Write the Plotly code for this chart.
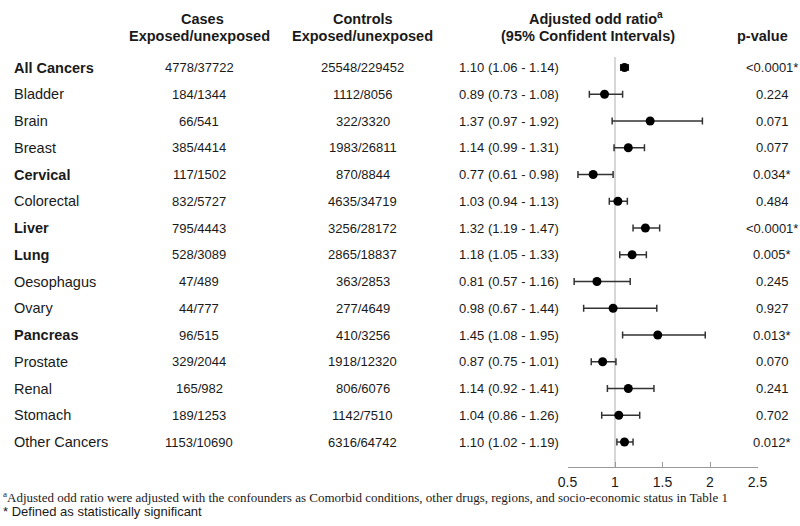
import plotly.graph_objects as go

# ---------------- data ----------------
cancers = ["All Cancers", "Bladder", "Brain", "Breast", "Cervical", "Colorectal", "Liver",
           "Lung", "Oesophagus", "Ovary", "Pancreas", "Prostate", "Renal", "Stomach",
           "Other Cancers"]
bold_rows = ["All Cancers", "Cervical", "Liver", "Lung", "Pancreas"]
cases = ["4778/37722", "184/1344", "66/541", "385/4414", "117/1502", "832/5727", "795/4443",
         "528/3089", "47/489", "44/777", "96/515", "329/2044", "165/982", "189/1253",
         "1153/10690"]
controls = ["25548/229452", "1112/8056", "322/3320", "1983/26811", "870/8844", "4635/34719",
            "3256/28172", "2865/18837", "363/2853", "277/4649", "410/3256", "1918/12320",
            "806/6076", "1142/7510", "6316/64742"]
or_est = [1.10, 0.89, 1.37, 1.14, 0.77, 1.03, 1.32, 1.18, 0.81, 0.98, 1.45, 0.87, 1.14, 1.04, 1.10]
ci_low = [1.06, 0.73, 0.97, 0.99, 0.61, 0.94, 1.19, 1.05, 0.57, 0.67, 1.08, 0.75, 0.92, 0.86, 1.02]
ci_high = [1.14, 1.08, 1.92, 1.31, 0.98, 1.13, 1.47, 1.33, 1.16, 1.44, 1.95, 1.01, 1.41, 1.26, 1.19]
p_values = ["<0.0001*", "0.224", "0.071", "0.077", "0.034*", "0.484", "<0.0001*", "0.005*",
            "0.245", "0.927", "0.013*", "0.070", "0.241", "0.702", "0.012*"]
x_ticks = [0.5, 1, 1.5, 2, 2.5]
footnote_a = "Adjusted odd ratio were adjusted with the confounders as Comorbid conditions, other drugs, regions, and socio-economic status in Table 1"
footnote_b = "* Defined as statistically significant"

# ---------------- layout helpers ----------------
W, H = 800, 526
SANS = "Liberation Sans, Arial, sans-serif"
SERIF = "Liberation Serif, Times New Roman, serif"
TXT = "#1a1a1a"
row0, dy = 67.5, 26.75
axis_px = 466.7
rows = list(range(len(cancers)))

def px_to_row(p):
    return (p - row0) / dy

fig = go.Figure()

fig.add_trace(go.Scatter(
    x=or_est, y=rows, mode="markers",
    marker=dict(color="black", size=9, symbol="circle"),
    error_x=dict(type="data", symmetric=False,
                 array=[h - o for h, o in zip(ci_high, or_est)],
                 arrayminus=[o - l for o, l in zip(or_est, ci_low)],
                 color="#333333", thickness=1.5, width=3.5),
    showlegend=False, hoverinfo="skip", cliponaxis=False,
))

# reference line at OR = 1
fig.add_shape(type="line", xref="x", yref="y", x0=1, x1=1,
              y0=px_to_row(57), y1=px_to_row(axis_px),
              line=dict(color="#bdbdbd", width=1.2), layer="below")

ann = []
def px_x(p):
    return p / W
def px_y(p):
    return 1 - p / H

for i, name in enumerate(cancers):
    label = f"<b>{name}</b>" if name in bold_rows else name
    ann.append(dict(text=label, x=px_x(12), y=i, xref="paper", yref="y",
                    xanchor="left", yanchor="middle", showarrow=False,
                    font=dict(family=SANS, size=14.5, color=TXT)))
    ann.append(dict(text=cases[i], x=px_x(199), y=i, xref="paper", yref="y",
                    xanchor="center", yanchor="middle", showarrow=False,
                    font=dict(family=SANS, size=13, color=TXT)))
    ann.append(dict(text=controls[i], x=px_x(362.5), y=i, xref="paper", yref="y",
                    xanchor="center", yanchor="middle", showarrow=False,
                    font=dict(family=SANS, size=13, color=TXT)))
    ann.append(dict(text=f"{or_est[i]:.2f} ({ci_low[i]:.2f} - {ci_high[i]:.2f})",
                    x=px_x(456.5), y=i, xref="paper", yref="y",
                    xanchor="left", yanchor="middle", showarrow=False,
                    font=dict(family=SANS, size=13, color=TXT)))
    ann.append(dict(text=p_values[i], x=px_x(772), y=i, xref="paper", yref="y",
                    xanchor="center", yanchor="middle", showarrow=False,
                    font=dict(family=SANS, size=13, color=TXT)))

hdr_font = dict(family=SANS, size=14.5, color=TXT)
headers = [
    ("<b>Cases</b>", 203, 19), ("<b>Exposed/unexposed</b>", 199, 36.5),
    ("<b>Controls</b>", 362.5, 19), ("<b>Exposed/unexposed</b>", 362.5, 36.5),
    ("<b>Adjusted odd ratio<sup>a</sup></b>", 596, 18), ("<b>(95% Confident Intervals)</b>", 588, 36.5),
    ("<b>p-value</b>", 762, 36.5),
]
for t, xp, yp in headers:
    ann.append(dict(text=t, x=px_x(xp), y=px_y(yp), xref="paper", yref="paper",
                    xanchor="center", yanchor="middle", showarrow=False, font=hdr_font))

ann.append(dict(text="<sup>a</sup>" + footnote_a, x=px_x(1), y=px_y(496.5), xref="paper", yref="paper",
                xanchor="left", yanchor="middle", showarrow=False,
                font=dict(family=SERIF, size=13, color=TXT)))
ann.append(dict(text=footnote_b, x=px_x(1), y=px_y(511), xref="paper", yref="paper",
                xanchor="left", yanchor="middle", showarrow=False,
                font=dict(family=SANS, size=13, color=TXT)))

fig.update_layout(
    width=W, height=H, margin=dict(l=0, r=0, t=0, b=0, autoexpand=False),
    paper_bgcolor="white", plot_bgcolor="white",
    annotations=ann,
    xaxis=dict(domain=[567.5 / W, 757.5 / W], range=[0.5, 2.5], automargin=False,
               tickmode="array", tickvals=x_ticks, ticktext=[str(v) for v in x_ticks],
               showgrid=False, zeroline=False, showline=True, linecolor="#999999", linewidth=1,
               ticks="inside", ticklen=5, tickcolor="#999999",
               tickfont=dict(family=SANS, size=14, color=TXT), ticklabelstandoff=2),
    yaxis=dict(domain=[(H - axis_px) / H, 1], range=[px_to_row(axis_px), px_to_row(0)],
               automargin=False,
               showgrid=False, zeroline=False, showline=False, showticklabels=False, ticks=""),
)

fig.write_html("out.html", config={"displayModeBar": False},
               post_script="document.body.style.margin='0';document.body.style.overflow='hidden';")
